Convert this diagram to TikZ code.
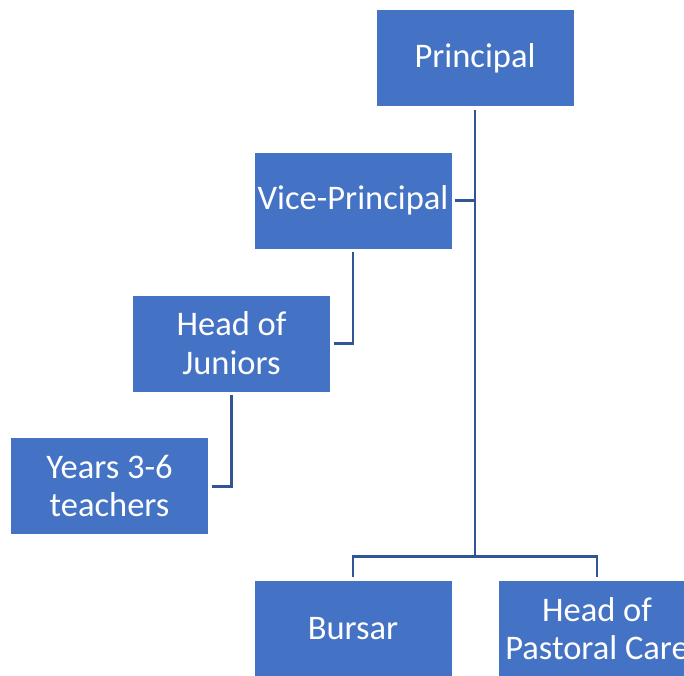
\documentclass[tikz,border=0pt]{standalone}
\usepackage{fontspec}
\setmainfont{Carlito}
\definecolor{boxblue}{RGB}{68,114,196}
\definecolor{lineblue}{RGB}{47,85,151}
\begin{document}
\begin{tikzpicture}[x=1pt,y=-1pt,
  orgbox/.style={rectangle, fill=boxblue, draw=white, line width=0.6pt, minimum width=198pt, minimum height=97pt, inner sep=0pt, text=white, align=center, font=\fontsize{34.5}{38.5}\selectfont},
  conn/.style={draw=lineblue, line width=2.6pt}]
\useasboundingbox (0,0) rectangle (684,675);
\clip (0,0) rectangle (684,675);
\node[orgbox] (P) at (475,58) {Principal};
\node[orgbox] (VP) at (353,200.5) {Vice-Principal};
\node[orgbox] (HJ) at (231.5,343.3) {Head of\\Juniors};
\node[orgbox] (Y) at (109.5,486.2) {Years 3-6\\teachers};
\node[orgbox] (B) at (353,628.5) {Bursar};
\node[orgbox] (HPC) at (597,628.5) {Head of\\Pastoral Care};
\coordinate (bus) at (475,556.7);
\draw[conn, shorten <=3pt] (P.south) -- (bus);
\draw[conn, shorten >=3pt] (bus) -| (B.north);
\draw[conn, shorten >=3pt] (bus) -| (HPC.north);
\draw[conn, shorten <=3pt] (VP.east) -- (VP.east -| P.south);
\draw[conn, shorten <=3pt, shorten >=3pt] (VP.south) |- (HJ.east);
\draw[conn, shorten <=3pt, shorten >=3pt] (HJ.south) |- (Y.east);
\end{tikzpicture}
\end{document}
